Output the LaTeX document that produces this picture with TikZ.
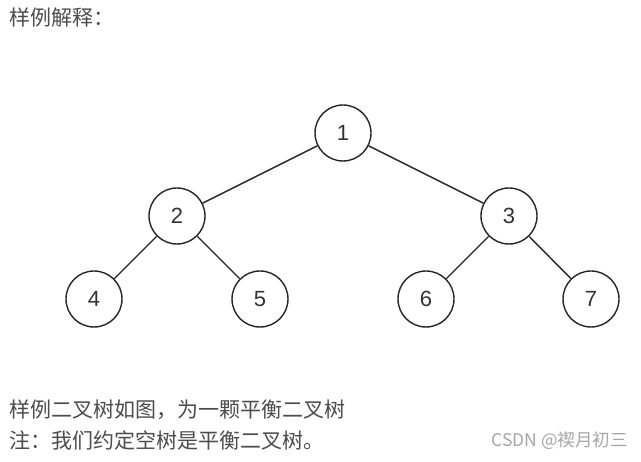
\documentclass[tikz,border=0pt]{standalone}
\usepackage{fontspec}
\setmainfont{Liberation Sans}
\newfontfamily\cjk{Noto Sans CJK SC}
\begin{document}
\begin{tikzpicture}[x=1pt,y=-1pt,
  tnode/.style={circle,draw=black!85,line width=1.4pt,minimum size=56pt,inner sep=0pt,font=\fontsize{22}{22}\selectfont,text=black!80},
  edge/.style={draw=black!85,line width=1.4pt},
  captext/.style={anchor=west,inner sep=0pt,font=\cjk\fontsize{21}{21}\selectfont,text=black!70}]
\useasboundingbox[fill=white] (0,0) rectangle (641,462);
\node[captext] (title) at (9,18) {样例解释：};
\node[tnode] (n1) at (343,133) {1};
\node[tnode] (n2) at (177,216) {2};
\node[tnode] (n3) at (509,216) {3};
\node[tnode] (n4) at (94,299) {4};
\node[tnode] (n5) at (260,299) {5};
\node[tnode] (n6) at (426,299) {6};
\node[tnode] (n7) at (591,299) {7};
\draw[edge] (n1) -- (n2);
\draw[edge] (n1) -- (n3);
\draw[edge] (n2) -- (n4);
\draw[edge] (n2) -- (n5);
\draw[edge] (n3) -- (n6);
\draw[edge] (n3) -- (n7);
\node[captext] (l1) at (9,410) {样例二叉树如图，为一颗平衡二叉树};
\node[captext] (l2) at (9,440) {注：我们约定空树是平衡二叉树。};
\node[anchor=east,inner sep=0pt,font=\cjk\fontsize{17.5}{17.5}\selectfont,text=black!35] (wm) at (628,441) {CSDN @禊月初三};
\end{tikzpicture}
\end{document}
